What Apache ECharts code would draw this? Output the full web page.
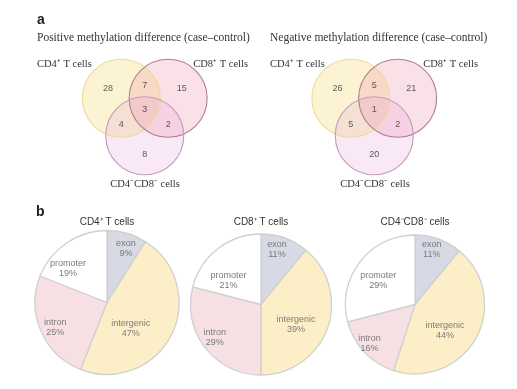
<!DOCTYPE html>
<html><head><meta charset="utf-8">
<script src="https://cdn.jsdelivr.net/npm/echarts@6/dist/echarts.min.js"></script>
<style>html,body{margin:0;padding:0;background:#fff}#c{width:517px;height:389px}</style>
</head><body><div id="c"></div>
<script>
// ---- data ----
const vennTitles = ['Positive methylation difference (case\u2013control)', 'Negative methylation difference (case\u2013control)'];
const vennSetNames = ['CD4\u207A T cells', 'CD8\u207A T cells', 'CD4\u207BCD8\u207B cells'];
const vennSetCenters = [[-0.6, 0.48], [0.6, 0.48], [0, -0.48]]; // unit-radius circles
const vennRegions = ['CD4 only', 'CD4&CD8', 'CD8 only', 'all three', 'CD4&DN', 'CD8&DN', 'DN only'];
const positiveCounts = [28, 7, 15, 3, 4, 2, 8];
const negativeCounts = [26, 5, 21, 1, 5, 2, 20];
const regionAnchors = [[-0.94, 0.72], [0, 0.82], [0.95, 0.72], [0, 0.18], [-0.6, -0.2], [0.6, -0.2], [0, -0.97]];

const pieTitles = ['CD4\u207A T cells', 'CD8\u207A T cells', 'CD4\u207BCD8\u207B cells'];
const genomicRegions = ['exon', 'intergenic', 'intron', 'promoter'];
const cd4Pct = [9, 47, 25, 19];
const cd8Pct = [11, 39, 29, 21];
const dnPct = [11, 44, 16, 29];

// ---- styles / layout ----
const circleFill = ['rgba(246,214,110,0.30)', 'rgba(236,140,165,0.26)', 'rgba(228,160,214,0.24)'];
const circleStroke = ['#eadb98', '#ad7d8d', '#c29cbc'];
const sliceColors = ['#d7d9e5', '#fcefc8', '#f6e0e4', '#ffffff'];
const pieLayout = [
  { center: [107, 302.5], r: 72, offs: [[8, -17], [-11, 8], [-16, 10], [-17, -2]] },
  { center: [261, 304.5], r: 70.5, offs: [[3, -19], [-1, 7], [-16, 10], [-9, 6]] },
  { center: [415, 304.5], r: 69.5, offs: [[4, -19], [-3, 8], [-18, 13], [-7, -1]] }
];
const vennGrids = [{ left: 66.75, top: 39 }, { left: 296.25, top: 39 }];

const serif = '"Liberation Serif", serif';
const sans = '"Liberation Sans", Arial, sans-serif';

const chart = echarts.init(document.getElementById('c'), null, { renderer: 'canvas' });

const grid = [], xAxis = [], yAxis = [], series = [], graphic = [];
[positiveCounts, negativeCounts].forEach((counts, gi) => {
  grid.push({ left: vennGrids[gi].left, top: vennGrids[gi].top, width: 156, height: 156 });
  xAxis.push({ type: 'value', min: -2, max: 2, show: false, gridIndex: gi });
  yAxis.push({ type: 'value', min: -2, max: 2, show: false, gridIndex: gi });
  const circleData = vennSetCenters.map((c, i) => [c[0], c[1], i]);
  series.push({
    type: 'custom', xAxisIndex: gi, yAxisIndex: gi, silent: true, z: 1,
    data: circleData,
    renderItem: (params, api) => {
      const c = api.coord([api.value(0), api.value(1)]);
      const r = api.size([1, 0])[0];
      const i = api.value(2);
      return { type: 'circle', shape: { cx: c[0], cy: c[1], r: r }, style: { fill: circleFill[i], stroke: null } };
    }
  });
  series.push({
    type: 'custom', xAxisIndex: gi, yAxisIndex: gi, silent: true, z: 2,
    data: circleData,
    renderItem: (params, api) => {
      const c = api.coord([api.value(0), api.value(1)]);
      const r = api.size([1, 0])[0];
      const i = api.value(2);
      return { type: 'circle', shape: { cx: c[0], cy: c[1], r: r }, style: { fill: 'none', stroke: circleStroke[i], lineWidth: 1.1 } };
    }
  });
  series.push({
    type: 'scatter', xAxisIndex: gi, yAxisIndex: gi, silent: true, z: 3,
    symbolSize: 1, itemStyle: { color: 'rgba(0,0,0,0)' },
    data: regionAnchors.map((p, k) => ({ name: vennRegions[k], value: [p[0], p[1], counts[k]] })),
    label: { show: true, position: 'inside', formatter: p => p.value[2], color: '#333', fontSize: 9, fontFamily: sans }
  });
});

const vennTextX = [[37, 248, 145], [270, 478, 375]];
vennTitles.forEach((t, gi) => {
  graphic.push({ type: 'text', left: gi === 0 ? 37 : 270, top: 32, style: { text: t, font: '11.5px ' + serif, fill: '#333' } });
  graphic.push({ type: 'text', x: vennTextX[gi][0], y: 64, style: { text: vennSetNames[0], font: '10.5px ' + serif, fill: '#333', textAlign: 'left', textVerticalAlign: 'middle' } });
  graphic.push({ type: 'text', x: vennTextX[gi][1], y: 64, style: { text: vennSetNames[1], font: '10.5px ' + serif, fill: '#333', textAlign: 'right', textVerticalAlign: 'middle' } });
  graphic.push({ type: 'text', x: vennTextX[gi][2], y: 184, style: { text: vennSetNames[2], font: '10.5px ' + serif, fill: '#333', textAlign: 'center', textVerticalAlign: 'middle' } });
});
graphic.push({ type: 'text', x: 37, y: 20, style: { text: 'a', font: 'bold 14px ' + sans, fill: '#222', textVerticalAlign: 'middle' } });
graphic.push({ type: 'text', x: 36, y: 212, style: { text: 'b', font: 'bold 14px ' + sans, fill: '#222', textVerticalAlign: 'middle' } });

[cd4Pct, cd8Pct, dnPct].forEach((vals, pi) => {
  const L = pieLayout[pi];
  graphic.push({ type: 'text', x: L.center[0], y: 222, style: { text: pieTitles[pi], font: '10px ' + sans, fill: '#333', textAlign: 'center', textVerticalAlign: 'middle' } });
  series.push({
    type: 'pie', center: L.center, radius: [0, L.r], startAngle: 90, clockwise: true, silent: true,
    emphasis: { disabled: true },
    data: genomicRegions.map((g, k) => ({ name: g, value: vals[k], itemStyle: { color: sliceColors[k] } })),
    itemStyle: { borderColor: '#d0d0d0', borderWidth: 1.3 },
    label: { show: true, position: 'inside', formatter: '{b}\n{c}%', color: '#7a7a7a', fontSize: 9, fontFamily: sans, lineHeight: 10 },
    labelLine: { show: false },
    labelLayout: p => ({ dx: L.offs[p.dataIndex][0], dy: L.offs[p.dataIndex][1] })
  });
});

chart.setOption({ animation: false, backgroundColor: '#fff', grid, xAxis, yAxis, series, graphic });
</script>
</body></html>
